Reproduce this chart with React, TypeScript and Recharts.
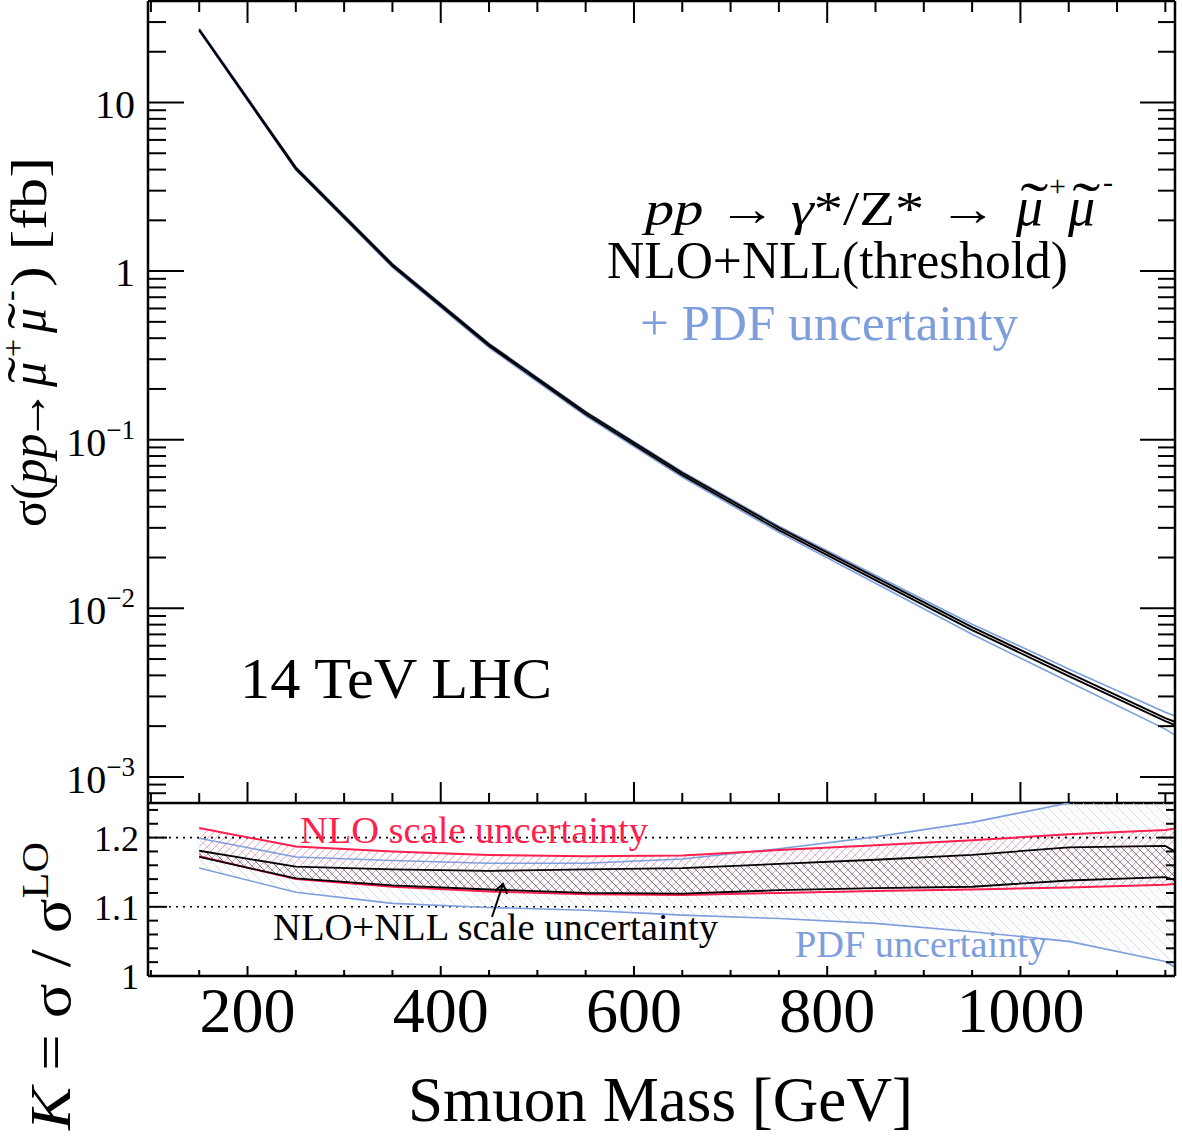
import React from 'react';
import { LineChart, ComposedChart, Line, Area, XAxis, YAxis, ReferenceLine } from 'recharts';

// ---------- data ----------
const masses = [150, 250, 350, 450, 550, 650, 750, 850, 950, 1050, 1150, 1160];

// upper panel: cross section [fb]
const sigmaScaleUp = [27.1, 4.11, 1.095, 0.368, 0.1455, 0.0636, 0.0301, 0.01525, 0.00773, 0.00414, 0.00223, 0.00212];
const sigmaScaleLo = [26.8, 4.03, 1.072, 0.36, 0.1415, 0.0616, 0.0291, 0.0147, 0.00743, 0.00396, 0.00214, 0.00203];
const sigmaPdfUp = [27.5, 4.16, 1.109, 0.373, 0.1473, 0.0646, 0.0307, 0.0157, 0.00805, 0.00437, 0.00242, 0.0023];
const sigmaPdfLo = [26.5, 3.98, 1.05, 0.352, 0.1387, 0.0601, 0.0282, 0.01407, 0.00701, 0.00367, 0.00192, 0.00177];

// lower panel: K factor
const kNloUp = [1.214, 1.187, 1.18, 1.175, 1.173, 1.174, 1.182, 1.189, 1.196, 1.205, 1.211, 1.213];
const kNloLo = [1.173, 1.14, 1.129, 1.122, 1.118, 1.117, 1.12, 1.123, 1.125, 1.128, 1.132, 1.133];
const kNllUp = [1.181, 1.158, 1.154, 1.152, 1.154, 1.156, 1.162, 1.168, 1.175, 1.186, 1.188, 1.18];
const kNllLo = [1.172, 1.141, 1.131, 1.125, 1.12, 1.119, 1.124, 1.127, 1.129, 1.138, 1.143, 1.139];
const kPdfUp = [1.199, 1.172, 1.167, 1.163, 1.163, 1.169, 1.184, 1.201, 1.222, 1.25, 1.29, 1.295];
const kPdfLo = [1.156, 1.121, 1.105, 1.099, 1.095, 1.088, 1.083, 1.076, 1.064, 1.05, 1.021, 1.013];

// axes
const xDomain: [number, number] = [97, 1160];
const xTicks = [100, 150, 200, 250, 300, 350, 400, 450, 500, 550, 600, 650, 700, 750, 800, 850, 900, 950, 1000, 1050, 1100, 1150];
const xMajor = [200, 400, 600, 800, 1000];
const sigmaDomain: [number, number] = [7e-4, 40];
const sigmaTicks = [
  8e-4, 9e-4,
  0.001, 0.002, 0.003, 0.004, 0.005, 0.006, 0.007, 0.008, 0.009,
  0.01, 0.02, 0.03, 0.04, 0.05, 0.06, 0.07, 0.08, 0.09,
  0.1, 0.2, 0.3, 0.4, 0.5, 0.6, 0.7, 0.8, 0.9,
  1, 2, 3, 4, 5, 6, 7, 8, 9,
  10, 20, 30,
];
const kDomain: [number, number] = [1, 1.25];
const kTicks = [1, 1.02, 1.04, 1.06, 1.08, 1.1, 1.12, 1.14, 1.16, 1.18, 1.2, 1.22, 1.24];
const kMajorLabels: Record<string, string> = { '1': '1', '1.1': '1.1', '1.2': '1.2' };

const topRows = masses.map((m, i) => ({
  m,
  scUp: sigmaScaleUp[i],
  scLo: sigmaScaleLo[i],
  pdfUp: sigmaPdfUp[i],
  pdfLo: sigmaPdfLo[i],
}));

const botRows = masses.map((m, i) => ({
  m,
  nloUp: kNloUp[i],
  nloLo: kNloLo[i],
  nllUp: kNllUp[i],
  nllLo: kNllLo[i],
  pdfUp: kPdfUp[i],
  pdfLo: kPdfLo[i],
  pdfBand: [kPdfLo[i], kPdfUp[i]],
  nloBand: [kNloLo[i], kNloUp[i]],
  nllBand: [kNllLo[i], kNllUp[i]],
}));

// ---------- style ----------
const FONT = '"Liberation Serif", "Times New Roman", Times, serif';
const BLUE = '#7d9ddc';
const RED = '#ff1f4f';
const FRAME = { stroke: '#000', strokeWidth: 2.5 };

const isDecade = (v: number) => {
  const l = Math.log10(v);
  return Math.abs(l - Math.round(l)) < 1e-6;
};

// ---------- custom ticks (inward, ROOT style) ----------
const LeftLogTick = (p: any) => {
  const { x, y, payload } = p;
  const v = payload.value;
  const major = isDecade(v);
  const e = Math.round(Math.log10(v));
  let label: React.ReactNode = null;
  if (major) {
    if (e === 1 || e === 0) {
      label = (
        <text x={x - 13} y={y + 15} textAnchor="end" fontSize={40} fontFamily={FONT} fill="#000">
          {e === 1 ? '10' : '1'}
        </text>
      );
    } else {
      label = (
        <text x={x - 13} y={y + 16} textAnchor="end" fontSize={40} fontFamily={FONT} fill="#000">
          10
          <tspan dy={-17} fontSize={27}>{'\u2212' + String(-e)}</tspan>
        </text>
      );
    }
  }
  return (
    <g>
      <line x1={x} x2={x + (major ? 36 : 18)} y1={y} y2={y} stroke="#000" strokeWidth={2} />
      {label}
    </g>
  );
};

const RightLogTick = (p: any) => {
  const { x, y, payload } = p;
  const major = isDecade(payload.value);
  return <line x1={x} x2={x - (major ? 35 : 17)} y1={y} y2={y} stroke="#000" strokeWidth={2} />;
};

const TopXTick = (p: any) => {
  const { x, y, payload } = p;
  const major = xMajor.includes(payload.value);
  return <line x1={x} x2={x} y1={y} y2={y + (major ? 22 : 11)} stroke="#000" strokeWidth={2} />;
};

const UpperBottomXTick = (p: any) => {
  const { x, y, payload } = p;
  const major = xMajor.includes(payload.value);
  return <line x1={x} x2={x} y1={y} y2={y - (major ? 21 : 10)} stroke="#000" strokeWidth={2} />;
};

const LowerBottomXTick = (p: any) => {
  const { x, y, payload } = p;
  const major = xMajor.includes(payload.value);
  return (
    <g>
      <line x1={x} x2={x} y1={y} y2={y - (major ? 10 : 6)} stroke="#000" strokeWidth={2} />
      {major && (
        <text x={x} y={y + 56} textAnchor="middle" fontSize={64} fontFamily={FONT} fill="#000">
          {String(payload.value)}
        </text>
      )}
    </g>
  );
};

const kKey = (v: number) => String(Math.round(v * 100) / 100);

const LeftKTick = (p: any) => {
  const { x, y, payload } = p;
  const lab = kMajorLabels[kKey(payload.value)];
  const major = lab !== undefined;
  return (
    <g>
      <line x1={x} x2={x + (major ? 19 : 10)} y1={y} y2={y} stroke="#000" strokeWidth={2} />
      {major && (
        <text x={x - 9} y={y + 13} textAnchor="end" fontSize={36} fontFamily={FONT} fill="#000">
          {lab}
        </text>
      )}
    </g>
  );
};

const RightKTick = (p: any) => {
  const { x, y, payload } = p;
  const major = kMajorLabels[kKey(payload.value)] !== undefined;
  return <line x1={x} x2={x - (major ? 17 : 9)} y1={y} y2={y} stroke="#000" strokeWidth={2} />;
};

const axisCommon = {
  tickSize: 0,
  tickMargin: 0,
  tickLine: false,
  interval: 0 as const,
  axisLine: FRAME,
  allowDataOverflow: true,
};

// a mu with a tilde accent drawn above it
const MuTilde = ({ x, y, size }: { x: number; y: number; size: number }) => (
  <g>
    <text x={x} y={y} fontSize={size} fontStyle="italic" fill="#000">{'\u03bc'}</text>
    <text x={x + size * 0.08} y={y - size * 0.05} fontSize={size * 1.05} fill="#000" textLength={size * 0.52} lengthAdjust="spacingAndGlyphs">{'\u02dc'}</text>
  </g>
);

export default function App() {
  return (
    <div style={{ position: 'absolute', left: 0, top: 0, width: 1182, height: 1148, background: '#fff', overflow: 'hidden' }}>
      <svg width={0} height={0} style={{ position: 'absolute' }}>
        <defs>
          <pattern id="hatchPdf" patternUnits="userSpaceOnUse" width={10} height={10}>
            <path d="M0,0 L10,10 M-2,8 L2,12 M8,-2 L12,2" stroke="#c4d2f1" strokeWidth={0.8} />
          </pattern>
          <pattern id="hatchNlo" patternUnits="userSpaceOnUse" width={8} height={8}>
            <path d="M0,8 L8,0 M-2,2 L2,-2 M6,10 L10,6" stroke="#ff86a0" strokeWidth={0.8} />
          </pattern>
          <pattern id="hatchNll" patternUnits="userSpaceOnUse" width={8} height={8}>
            <path d="M0,0 L8,8 M-2,6 L2,10 M6,-2 L10,2" stroke="#555" strokeWidth={0.8} />
          </pattern>
        </defs>
      </svg>

      {/* upper panel */}
      <div style={{ position: 'absolute', left: 0, top: 0 }}>
        <LineChart width={1182} height={810} data={topRows} margin={{ top: 0, right: 6, bottom: 6, left: 147 }}>
          <XAxis xAxisId="b" dataKey="m" type="number" domain={xDomain} ticks={xTicks} height={1} tick={UpperBottomXTick} {...axisCommon} />
          <XAxis xAxisId="t" orientation="top" dataKey="m" type="number" domain={xDomain} ticks={xTicks} height={1} tick={TopXTick} {...axisCommon} />
          <YAxis yAxisId="l" scale="log" type="number" domain={sigmaDomain} ticks={sigmaTicks} width={1} tick={LeftLogTick} {...axisCommon} />
          <YAxis yAxisId="r" orientation="right" scale="log" type="number" domain={sigmaDomain} ticks={sigmaTicks} width={1} tick={RightLogTick} {...axisCommon} />
          <Line xAxisId="b" yAxisId="l" type="linear" dataKey="pdfUp" stroke={BLUE} strokeWidth={1.6} dot={false} isAnimationActive={false} />
          <Line xAxisId="b" yAxisId="l" type="linear" dataKey="pdfLo" stroke={BLUE} strokeWidth={1.6} dot={false} isAnimationActive={false} />
          <Line xAxisId="b" yAxisId="l" type="linear" dataKey="scUp" stroke="#000" strokeWidth={1.9} dot={false} isAnimationActive={false} />
          <Line xAxisId="b" yAxisId="l" type="linear" dataKey="scLo" stroke="#000" strokeWidth={1.9} dot={false} isAnimationActive={false} />
        </LineChart>
      </div>

      {/* lower panel */}
      <div style={{ position: 'absolute', left: 0, top: 790 }}>
        <ComposedChart width={1182} height={358} data={botRows} margin={{ top: 13, right: 6, bottom: 171, left: 147 }}>
          <XAxis xAxisId="b" dataKey="m" type="number" domain={xDomain} ticks={xTicks} height={1} tick={LowerBottomXTick} {...axisCommon} />
          <YAxis yAxisId="l" type="number" domain={kDomain} ticks={kTicks} width={1} tick={LeftKTick} {...axisCommon} />
          <YAxis yAxisId="r" orientation="right" type="number" domain={kDomain} ticks={kTicks} width={1} tick={RightKTick} {...axisCommon} />
          <ReferenceLine xAxisId="b" yAxisId="l" y={1.1} stroke="#000" strokeWidth={1.6} strokeDasharray="2 5" />
          <ReferenceLine xAxisId="b" yAxisId="l" y={1.2} stroke="#000" strokeWidth={1.6} strokeDasharray="2 5" />
          <Area xAxisId="b" yAxisId="l" type="linear" dataKey="pdfBand" stroke="none" fill="url(#hatchPdf)" fillOpacity={1} isAnimationActive={false} />
          <Area xAxisId="b" yAxisId="l" type="linear" dataKey="nloBand" stroke="none" fill="url(#hatchNlo)" fillOpacity={1} isAnimationActive={false} />
          <Area xAxisId="b" yAxisId="l" type="linear" dataKey="nllBand" stroke="none" fill="url(#hatchNll)" fillOpacity={1} isAnimationActive={false} />
          <Line xAxisId="b" yAxisId="l" type="linear" dataKey="pdfUp" stroke={BLUE} strokeWidth={1.6} dot={false} isAnimationActive={false} />
          <Line xAxisId="b" yAxisId="l" type="linear" dataKey="pdfLo" stroke={BLUE} strokeWidth={1.6} dot={false} isAnimationActive={false} />
          <Line xAxisId="b" yAxisId="l" type="linear" dataKey="nloUp" stroke={RED} strokeWidth={2} dot={false} isAnimationActive={false} />
          <Line xAxisId="b" yAxisId="l" type="linear" dataKey="nloLo" stroke={RED} strokeWidth={2} dot={false} isAnimationActive={false} />
          <Line xAxisId="b" yAxisId="l" type="linear" dataKey="nllUp" stroke="#000" strokeWidth={1.8} dot={false} isAnimationActive={false} />
          <Line xAxisId="b" yAxisId="l" type="linear" dataKey="nllLo" stroke="#000" strokeWidth={1.8} dot={false} isAnimationActive={false} />
        </ComposedChart>
      </div>

      {/* annotations & axis titles */}
      <svg width={1182} height={1148} style={{ position: 'absolute', left: 0, top: 0, pointerEvents: 'none' }} fontFamily={FONT}>
        {/* process label */}
        <text x={645} y={225} fontSize={48} fill="#000" textLength={352} lengthAdjust="spacingAndGlyphs">
          <tspan fontStyle="italic">pp</tspan>
          <tspan>{'  \u2192  '}</tspan>
          <tspan fontStyle="italic">{'\u03b3'}</tspan>
          <tspan>{'*/Z*  \u2192'}</tspan>
        </text>
        <MuTilde x={1016} y={225} size={54} />
        <text x={1049} y={196} fontSize={30} fill="#000">+</text>
        <MuTilde x={1068} y={225} size={54} />
        <text x={1103} y={192} fontSize={30} fill="#000">-</text>

        <text x={607} y={278} fontSize={52} fill="#000" textLength={461} lengthAdjust="spacingAndGlyphs">NLO+NLL(threshold)</text>
        <text x={640} y={340} fontSize={51} fill={BLUE} textLength={378} lengthAdjust="spacingAndGlyphs">+ PDF uncertainty</text>
        <text x={240} y={698} fontSize={57} fill="#000" textLength={312} lengthAdjust="spacingAndGlyphs">14 TeV LHC</text>

        <text x={300} y={843} fontSize={38} fill={RED} textLength={348} lengthAdjust="spacingAndGlyphs">NLO scale uncertainty</text>
        <text x={273} y={940} fontSize={38} fill="#000" textLength={445} lengthAdjust="spacingAndGlyphs">NLO+NLL scale uncertainty</text>
        <text x={795} y={957} fontSize={38} fill={BLUE} textLength={252} lengthAdjust="spacingAndGlyphs">PDF uncertainty</text>
        <line x1={492} y1={917} x2={503} y2={884} stroke="#000" strokeWidth={2} />
        <polyline points="495,891 503,884 507,894" fill="none" stroke="#000" strokeWidth={2} />

        <text x={408} y={1121} fontSize={64} fill="#000" textLength={505} lengthAdjust="spacingAndGlyphs">Smuon Mass [GeV]</text>

        {/* upper y title */}
        <g transform="translate(46,527) rotate(-90)">
          <text x={0} y={0} fontSize={50} fill="#000">
            <tspan>{'\u03c3('}</tspan>
            <tspan fontStyle="italic">pp</tspan>
          </text>
          <text x={86} y={0} fontSize={50} fill="#000" textLength={52} lengthAdjust="spacingAndGlyphs">{'\u2192'}</text>
          <MuTilde x={140} y={0} size={50} />
          <text x={170} y={-22} fontSize={32} fill="#000">+</text>
          <MuTilde x={194} y={0} size={50} />
          <text x={226} y={-26} fontSize={32} fill="#000">-</text>
          <text x={240} y={0} fontSize={50} fill="#000" textLength={130} lengthAdjust="spacingAndGlyphs">{') [fb]'}</text>
        </g>

        {/* lower y title */}
        <text transform="translate(70,1130) rotate(-90)" fontSize={58} fill="#000" textLength={288} lengthAdjust="spacingAndGlyphs">
          <tspan fontStyle="italic">K</tspan>
          <tspan>{' = \u03c3 / \u03c3'}</tspan>
          <tspan dy={-22} fontSize={38}>LO</tspan>
        </text>
      </svg>
    </div>
  );
}
